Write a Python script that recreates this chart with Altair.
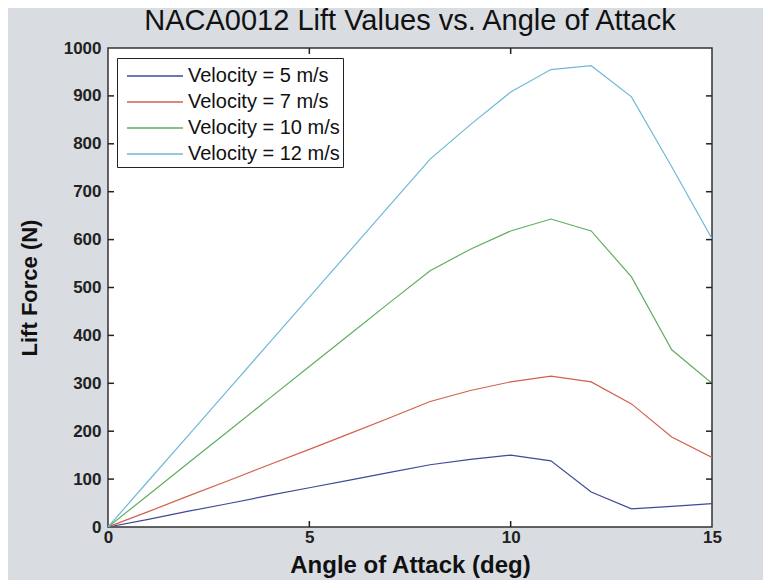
import altair as alt
import pandas as pd

angles = list(range(0, 16))
v5 = [0, 16, 33, 49, 66, 82, 98, 114, 130, 141, 150, 138, 73, 38, 43, 49]
v7 = [0, 32, 65, 97, 130, 162, 195, 228, 262, 285, 303, 315, 303, 257, 188, 145]
v10 = [0, 67, 134, 201, 268, 335, 402, 469, 535, 580, 618, 643, 618, 522, 370, 300]
v12 = [0, 96, 192, 288, 384, 480, 576, 672, 768, 840, 908, 955, 963, 898, 752, 602]
series_names = ["Velocity = 5 m/s", "Velocity = 7 m/s", "Velocity = 10 m/s", "Velocity = 12 m/s"]
colors = ["#3f4a96", "#d2604e", "#5fae62", "#6fb9d6"]
x_ticks = [0, 5, 10, 15]
y_ticks = [0, 100, 200, 300, 400, 500, 600, 700, 800, 900, 1000]

rows = []
for name, vals in zip(series_names, [v5, v7, v10, v12]):
    for a, v in zip(angles, vals):
        rows.append({"angle": a, "lift": v, "series": name})
df = pd.DataFrame(rows)

xsc = alt.Scale(domain=[0, 15], nice=False)
ysc = alt.Scale(domain=[0, 1000], nice=False)
FONT = "Liberation Sans"

lines = alt.Chart(df).mark_line(strokeWidth=1.2, clip=True).encode(
    x=alt.X("angle:Q", scale=xsc,
            axis=alt.Axis(values=x_ticks, title="Angle of Attack (deg)", ticks=False,
                          domain=False, grid=False, labelFont=FONT, labelFontSize=17,
                          labelFontWeight="bold", labelColor="#222", labelPadding=2,
                          titleFont=FONT, titleFontSize=24, titleFontWeight="bold",
                          titleColor="#111", titlePadding=8, labelFlush=False, format="d")),
    y=alt.Y("lift:Q", scale=ysc,
            axis=alt.Axis(values=y_ticks, title="Lift Force (N)", ticks=False,
                          domain=False, grid=False, labelFont=FONT, labelFontSize=17,
                          labelFontWeight="bold", labelColor="#222", labelPadding=7,
                          titleFont=FONT, titleFontSize=22, titleFontWeight="bold",
                          titleColor="#111", titlePadding=22, labelFlush=False, format="d")),
    color=alt.Color("series:N", scale=alt.Scale(domain=series_names, range=colors),
                    sort=series_names,
                    legend=alt.Legend(title=None, orient="none", legendX=9, legendY=10,
                                      symbolType="M-2,0H2", symbolSize=784,
                                      symbolStrokeWidth=1.5, labelFont=FONT,
                                      labelFontSize=20, labelColor="#111",
                                      fillColor="white", strokeColor="#222",
                                      padding=3, rowPadding=1, symbolOffset=20,
                                      labelOffset=18)),
)

xt = pd.DataFrame({"t": x_ticks[1:-1]})
yt = pd.DataFrame({"t": y_ticks[1:-1]})
TL = 6
tick_color = "#222"
bottom_ticks = alt.Chart(xt).mark_rule(color=tick_color, strokeWidth=1.5).encode(
    x=alt.X("t:Q", scale=xsc), y=alt.value(479), y2=alt.value(479 - TL))
top_ticks = alt.Chart(xt).mark_rule(color=tick_color, strokeWidth=1.5).encode(
    x=alt.X("t:Q", scale=xsc), y=alt.value(0), y2=alt.value(TL))
left_ticks = alt.Chart(yt).mark_rule(color=tick_color, strokeWidth=1.5).encode(
    y=alt.Y("t:Q", scale=ysc), x=alt.value(0), x2=alt.value(TL))
right_ticks = alt.Chart(yt).mark_rule(color=tick_color, strokeWidth=1.5).encode(
    y=alt.Y("t:Q", scale=ysc), x=alt.value(604), x2=alt.value(604 - TL))

chart = alt.layer(lines, bottom_ticks, top_ticks, left_ticks, right_ticks).properties(
    width=604, height=479,
    title=alt.Title("NACA0012 Lift Values vs. Angle of Attack", font=FONT, fontSize=29,
                    fontWeight="normal", color="#111", offset=3, anchor="middle"),
    autosize=alt.AutoSizeParams(type="none"),
    padding={"left": 100, "top": 40, "right": 51, "bottom": 53},
).configure(background="#d9dde1").configure_view(
    stroke="#333", strokeWidth=1.5, fill="white"
)

chart.save("out.html", embed_options={"renderer": "svg", "actions": False})
